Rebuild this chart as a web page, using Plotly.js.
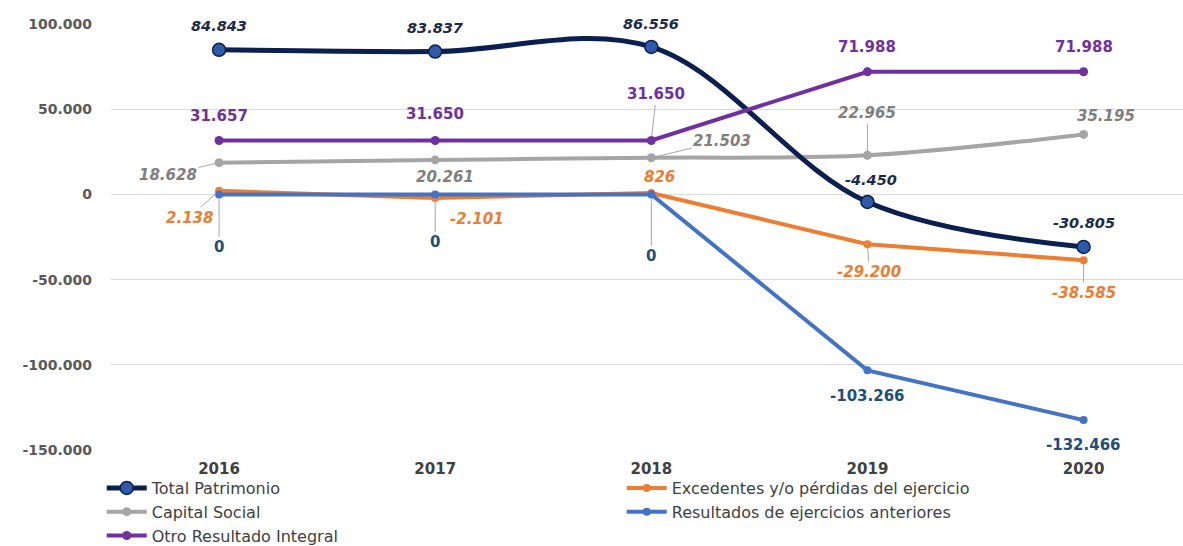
<!DOCTYPE html>
<html>
<head>
<meta charset="utf-8">
<script src="https://cdn.plot.ly/plotly-3.0.1.min.js"></script>
<style>html,body{margin:0;padding:0;background:#fff;}#chart{width:1183px;height:546px;}</style>
</head>
<body>
<div id="chart"></div>
<script>
// ---- data ----
var years = ['2016', '2017', '2018', '2019', '2020'];
var totalPatrimonio = [84843, 83837, 86556, -4450, -30805];
var capitalSocial = [18628, 20261, 21503, 22965, 35195];
var otroResultado = [31657, 31650, 31650, 71988, 71988];
var excedentes = [2138, -2101, 826, -29200, -38585];
var resultadosAnteriores = [0, 0, 0, -103266, -132466];
var yTickValues = [-150000, -100000, -50000, 0, 50000, 100000];
var yTickLabels = ['-150.000', '-100.000', '-50.000', '0', '50.000', '100.000'];

// ---- styles ----
function fmt(v) {
  var s = String(Math.abs(v));
  var out = '';
  while (s.length > 3) { out = '.' + s.slice(-3) + out; s = s.slice(0, -3); }
  return (v < 0 ? '-' : '') + s + out;
}
var LBL = 'DejaVu Sans';
var series = [
  {name: 'Capital Social', y: capitalSocial, color: '#a5a5a5', width: 4, msize: 9, shape: 'spline', rank: 3,
   lab: {color: '#7f7f7f', italic: true, size: 15},
   off: [[-51, 12, 1], [10, 17, 0], [71, -17, 1], [0, -42, 1], [22, -18, 0]]},
  {name: 'Excedentes y/o pérdidas del ejercicio', y: excedentes, color: '#ed7d31', width: 4, msize: 8, shape: 'linear', rank: 2,
   lab: {color: '#ed7d31', italic: true, size: 15},
   off: [[-30, 27, 1], [42, 21, 0], [8, -16, 0], [2, 28, 1], [0, 33, 1]]},
  {name: 'Resultados de ejercicios anteriores', y: resultadosAnteriores, color: '#4472c4', width: 4, msize: 8, shape: 'linear', rank: 4,
   lab: {color: '#1f4e79', italic: false, size: 15},
   off: [[0, 53, 1], [0, 48, 1], [0, 62, 1], [0, 26, 0], [0, 25, 0]]},
  {name: 'Total Patrimonio', y: totalPatrimonio, color: '#0b1f50', width: 5, msize: 13, shape: 'spline', rank: 1,
   mcolor: '#2f5aa8', mline: '#0b1f50',
   lab: {color: '#1b2a4a', italic: true, size: 14.5},
   off: [[0, -24, 0], [0, -24, 0], [0, -23, 0], [4, -22, 0], [0, -24, 0]]},
  {name: 'Otro Resultado Integral', y: otroResultado, color: '#7030a0', width: 4, msize: 9, shape: 'linear', rank: 5,
   lab: {color: '#7030a0', italic: false, size: 15},
   off: [[0, -24, 0], [0, -26, 0], [5, -46, 1], [0, -25, 0], [0, -25, 0]]}
];

var traces = [];
var annotations = [];
series.forEach(function (s) {
  traces.push({
    type: 'scatter', mode: 'lines+markers', name: s.name, x: years, y: s.y,
    legendrank: s.rank,
    line: {color: s.color, width: s.width, shape: s.shape, smoothing: 1},
    marker: {size: s.msize, color: s.mcolor || s.color,
             line: {color: s.mline || s.color, width: s.mline ? 1.5 : 0}}
  });
  s.y.forEach(function (v, i) {
    var o = s.off[i];
    var t = '<b>' + fmt(v) + '</b>';
    if (s.lab.italic) t = '<i>' + t + '</i>';
    annotations.push({
      x: i, y: v, xref: 'x', yref: 'y',
      text: t, showarrow: true, ax: o[0], ay: o[1],
      arrowhead: 0, arrowwidth: 1, standoff: 4,
      arrowcolor: o[2] ? '#a6a6a6' : 'rgba(255,255,255,0)',
      font: {family: LBL, size: s.lab.size, color: s.lab.color}
    });
  });
});

var layout = {
  width: 1183, height: 546,
  margin: {l: 111, r: 0, t: 24, b: 96},
  paper_bgcolor: '#ffffff', plot_bgcolor: '#ffffff',
  showlegend: true,
  xaxis: {
    type: 'category', range: [-0.5, 4.46],
    showgrid: false, zeroline: false, showline: false, ticks: '',
    ticklabelstandoff: 8,
    tickfont: {family: 'DejaVu Sans', size: 15, color: '#404040', weight: 'bold'}
  },
  yaxis: {
    range: [-150000, 100000], tickmode: 'array', tickvals: yTickValues, ticktext: yTickLabels,
    showgrid: true, gridcolor: '#d9d9d9', gridwidth: 1,
    zeroline: true, zerolinecolor: '#d9d9d9', zerolinewidth: 1,
    showline: false, ticks: '', ticklabelstandoff: 18,
    tickfont: {family: 'DejaVu Sans', size: 14, color: '#595959', weight: 'bold'}
  },
  legend: {
    orientation: 'h', xref: 'container', x: 0.086, xanchor: 'left',
    yref: 'container', y: 0.1374, yanchor: 'top',
    entrywidth: 465, entrywidthmode: 'pixels', traceorder: 'normal',
    itemwidth: 40, tracegroupgap: 0,
    font: {family: 'DejaVu Sans', size: 16, color: '#404040'},
    bgcolor: 'rgba(0,0,0,0)'
  },
  annotations: annotations
};

Plotly.newPlot('chart', traces, layout, {displayModeBar: false, staticPlot: true});
</script>
</body>
</html>
